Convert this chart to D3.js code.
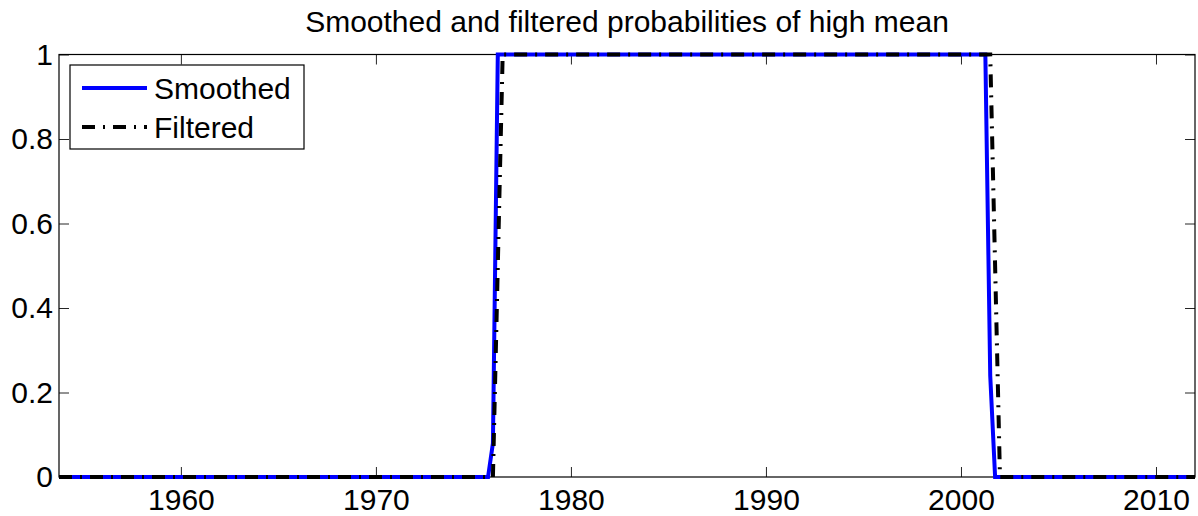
<!DOCTYPE html>
<html>
<head>
<meta charset="utf-8">
<script src="https://cdn.jsdelivr.net/npm/d3@7"></script>
<style>
  body { margin: 0; background: #fff; }
  svg { display: block; font-family: 'Liberation Sans', Arial, Helvetica, sans-serif; }
</style>
</head>
<body>
<svg id="chart" width="1198" height="516"></svg>
<script>
// Data: vertices of each line (year, probability)
const smoothedDates = [1953.75, 1975.75, 1976.0, 1976.25, 2001.25, 2001.5, 2001.75, 2012.0]
const smoothedProbs = [0, 0, 0.08, 1, 1, 0.24, 0, 0]
const filteredDates = [1953.75, 1976.0, 1976.25, 1976.5, 2001.5, 2001.75, 2002.0, 2012.0]
const filteredProbs = [0, 0, 0.5, 1, 1, 0.5, 0, 0]

const xTicks = [1960, 1970, 1980, 1990, 2000, 2010]
const yTicks = [0, 0.2, 0.4, 0.6, 0.8, 1]
const seriesNames = ['Smoothed', 'Filtered']
const chartTitle = 'Smoothed and filtered probabilities of high mean'

var svg = d3.select('#chart')
var margin = {top: 54.5, right: 3, bottom: 39, left: 59}
var width = +svg.attr('width') - margin.left - margin.right
var height = +svg.attr('height') - margin.top - margin.bottom
var g = svg.append('g').attr('transform', 'translate(' + margin.left + ',' + margin.top + ')')
var fontSize = '30px'

var x = d3.scaleLinear()
  .domain([smoothedDates[0], smoothedDates[smoothedDates.length - 1]])
  .range([0, width])

var y = d3.scaleLinear()
  .domain([0, 1])
  .range([height, 0])

var tickLen = 10

// X-axis (bottom, ticks inside) and mirrored top ticks
g.append('g')
  .attr('class', 'axis')
  .attr('transform', 'translate(0,' + height + ')')
  .call(d3.axisBottom(x).tickValues(xTicks).tickFormat(d3.format('d'))
    .tickSizeInner(-tickLen).tickSizeOuter(0).tickPadding(12))
g.append('g')
  .attr('class', 'axis')
  .call(d3.axisTop(x).tickValues(xTicks).tickFormat('')
    .tickSizeInner(-tickLen).tickSizeOuter(0))

// Y-axis (left, ticks inside) and mirrored right ticks
g.append('g')
  .attr('class', 'axis')
  .call(d3.axisLeft(y).tickValues(yTicks).tickFormat(d3.format('~g'))
    .tickSizeInner(-tickLen).tickSizeOuter(0).tickPadding(6))
g.append('g')
  .attr('class', 'axis')
  .attr('transform', 'translate(' + width + ',0)')
  .call(d3.axisRight(y).tickValues(yTicks).tickFormat('')
    .tickSizeInner(-tickLen).tickSizeOuter(0))

g.selectAll('.axis .domain').remove()
g.selectAll('.axis line').attr('stroke', '#262626').attr('stroke-width', 1)
g.selectAll('.axis text')
  .attr('fill', '#000')
  .style('font-size', fontSize)
  .style('font-family', "'Liberation Sans', Arial, Helvetica, sans-serif")

// Box round the plot area
g.append('rect')
  .attr('x', 0)
  .attr('y', 0)
  .attr('width', width)
  .attr('height', height)
  .attr('fill', 'none')
  .attr('stroke', '#000')
  .attr('stroke-width', 1.2)

// Lines
var line = d3.line()
  .x(function (d) { return x(d[0]) })
  .y(function (d) { return y(d[1]) })

var smoothed = d3.zip(smoothedDates, smoothedProbs)
var filtered = d3.zip(filteredDates, filteredProbs)

g.append('path')
  .datum(smoothed)
  .attr('d', line)
  .attr('fill', 'none')
  .attr('stroke', '#0000ff')
  .attr('stroke-width', 4)
  .attr('stroke-linejoin', 'miter')

g.append('path')
  .datum(filtered)
  .attr('d', line)
  .attr('fill', 'none')
  .attr('stroke', '#000')
  .attr('stroke-width', 4)
  .attr('stroke-dasharray', '13,8,2,8')

// Title
svg.append('text')
  .attr('x', margin.left + width / 2)
  .attr('y', 32)
  .attr('text-anchor', 'middle')
  .style('font-size', fontSize)
  .text(chartTitle)

// Legend
var legend = svg.append('g').attr('transform', 'translate(70,65)')
legend.append('rect')
  .attr('width', 234)
  .attr('height', 84)
  .attr('fill', '#fff')
  .attr('stroke', '#000')
  .attr('stroke-width', 1.2)

var legendStyles = [
  {color: '#0000ff', dash: null},
  {color: '#000', dash: '13,8,2,8'}
]
seriesNames.forEach(function (name, i) {
  var ly = 23 + i * 39
  legend.append('line')
    .attr('x1', 12)
    .attr('x2', 77)
    .attr('y1', ly)
    .attr('y2', ly)
    .attr('stroke', legendStyles[i].color)
    .attr('stroke-width', 4)
    .attr('stroke-dasharray', legendStyles[i].dash)
  legend.append('text')
    .attr('x', 84)
    .attr('y', ly + 10.5)
    .style('font-size', fontSize)
    .text(name)
})
</script>
</body>
</html>
